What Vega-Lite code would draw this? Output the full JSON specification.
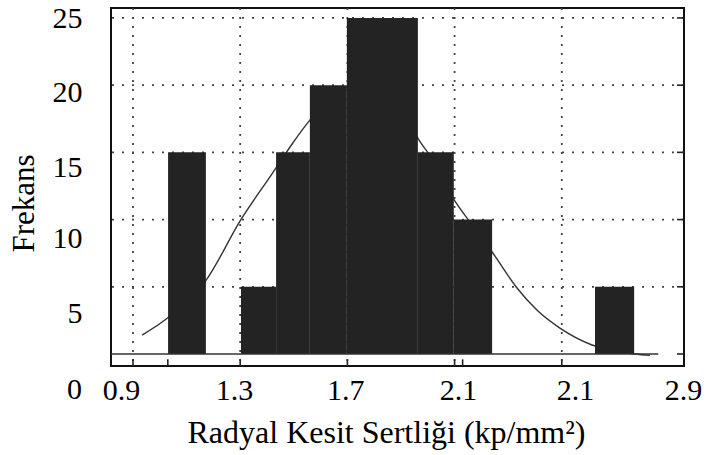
{
  "$schema": "https://vega.github.io/schema/vega-lite/v6.json",
  "autosize": "none",
  "width": 573,
  "height": 358,
  "padding": {"left": 111, "top": 8, "right": 26, "bottom": 89},
  "background": "white",
  "config": {
    "view": {"stroke": "#111", "strokeWidth": 2},
    "font": "Liberation Serif"
  },
  "datasets": {
    "bars": [
      {"lo": 1.031, "hi": 1.172, "freq": 15},
      {"lo": 1.303, "hi": 1.434, "freq": 5},
      {"lo": 1.434, "hi": 1.56, "freq": 15},
      {"lo": 1.56, "hi": 1.698, "freq": 20},
      {"lo": 1.698, "hi": 1.963, "freq": 25},
      {"lo": 1.963, "hi": 2.097, "freq": 15},
      {"lo": 2.097, "hi": 2.24, "freq": 10},
      {"lo": 2.624, "hi": 2.77, "freq": 5}
    ],
    "curve": [
      {"x": 0.934, "y": 1.41},
      {"x": 1.019, "y": 2.53},
      {"x": 1.169, "y": 5.38},
      {"x": 1.306, "y": 10.1},
      {"x": 1.422, "y": 13.5},
      {"x": 1.486, "y": 15.4},
      {"x": 1.56, "y": 17.4},
      {"x": 1.65, "y": 19.2},
      {"x": 1.75, "y": 20.2},
      {"x": 1.85, "y": 19.4},
      {"x": 1.92, "y": 17.6},
      {"x": 1.971, "y": 15.8},
      {"x": 2.001, "y": 14.96},
      {"x": 2.094, "y": 11.6},
      {"x": 2.157, "y": 9.82},
      {"x": 2.24, "y": 7.59},
      {"x": 2.333, "y": 4.91},
      {"x": 2.407, "y": 3.27},
      {"x": 2.493, "y": 1.93},
      {"x": 2.613, "y": 0.67},
      {"x": 2.773, "y": 0.0},
      {"x": 2.829, "y": -0.1}
    ],
    "hgrid": [
      {"y": 5}, {"y": 10}, {"y": 15}, {"y": 20}, {"y": 25}
    ],
    "vgrid": [
      {"x": 0.9}, {"x": 1.3}, {"x": 1.7}, {"x": 2.1}, {"x": 2.5}
    ],
    "frameticks": [
      {"x": 0.9, "x2": 0.9, "y": -0.893, "y2": -0.4},
      {"x": 1.03, "x2": 1.03, "y": -0.893, "y2": -0.4},
      {"x": 1.3, "x2": 1.3, "y": -0.893, "y2": -0.4},
      {"x": 1.7, "x2": 1.7, "y": -0.893, "y2": -0.4},
      {"x": 2.1, "x2": 2.1, "y": -0.893, "y2": -0.4},
      {"x": 2.13, "x2": 2.13, "y": -0.893, "y2": -0.4},
      {"x": 2.5, "x2": 2.5, "y": -0.893, "y2": -0.4},
      {"x": 2.93, "x2": 2.956, "y": 0, "y2": 0},
      {"x": 2.93, "x2": 2.956, "y": 5, "y2": 5},
      {"x": 2.93, "x2": 2.956, "y": 10, "y2": 10},
      {"x": 2.93, "x2": 2.956, "y": 15, "y2": 15},
      {"x": 2.93, "x2": 2.956, "y": 20, "y2": 20},
      {"x": 2.93, "x2": 2.956, "y": 25, "y2": 25}
    ],
    "baseline": [
      {"x": 0.818, "x2": 2.86, "y": 0}
    ],
    "zero": [
      {"label": "0", "x": 0.682, "y": -3.35}
    ]
  },
  "layer": [
    {
      "data": {"name": "hgrid"},
      "mark": {"type": "rule", "color": "#444", "strokeWidth": 1.8, "strokeDash": [2, 8]},
      "encoding": {
        "y": {"field": "y", "type": "quantitative", "scale": {"domain": [-0.893, 25.74], "nice": false, "zero": false},
          "axis": {"values": [24.93, 19.42, 13.84, 8.56, 2.98], "labelExpr": "'' + round(datum.value / 5) * 5", "ticks": false, "tickSize": 0, "domain": false, "grid": false, "labelFont": "Liberation Serif", "labelFontSize": 30, "labelColor": "#000", "labelPadding": 29, "labelFlush": false, "labelOverlap": false, "title": "Frekans", "titleFont": "Liberation Serif", "titleFontSize": 31, "titleFontWeight": "normal", "titleColor": "#000", "titleAngle": -90, "titleX": -78, "titleY": 195, "titleBaseline": "alphabetic", "titleAlign": "center"}}
      }
    },
    {
      "data": {"name": "vgrid"},
      "mark": {"type": "rule", "color": "#444", "strokeWidth": 1.8, "strokeDash": [2, 7]},
      "encoding": {
        "x": {"field": "x", "type": "quantitative", "scale": {"domain": [0.818, 2.956], "nice": false, "zero": false},
          "axis": {"values": [0.855, 1.277, 1.692, 2.113, 2.549, 2.952], "labelExpr": "datum.value < 1 ? '0.9' : datum.value < 1.5 ? '1.3' : datum.value < 1.9 ? '1.7' : datum.value < 2.75 ? '2.1' : '2.9'", "ticks": false, "tickSize": 0, "domain": false, "grid": false, "labelFont": "Liberation Serif", "labelFontSize": 30, "labelColor": "#000", "labelPadding": 9, "labelFlush": false, "labelOverlap": false, "title": "Radyal Kesit Sertliği (kp/mm²)", "titleFont": "Liberation Serif", "titleFontSize": 32, "titleFontWeight": "normal", "titleColor": "#000", "titleX": 275, "titleY": 76, "titleBaseline": "alphabetic", "titleAlign": "center"}}
      }
    },
    {
      "data": {"name": "curve"},
      "mark": {"type": "line", "color": "#333", "strokeWidth": 1.4, "interpolate": "monotone"},
      "encoding": {
        "x": {"field": "x", "type": "quantitative", "scale": {"domain": [0.818, 2.956], "nice": false, "zero": false},
          "axis": {"values": [0.855, 1.277, 1.692, 2.113, 2.549, 2.952], "labelExpr": "datum.value < 1 ? '0.9' : datum.value < 1.5 ? '1.3' : datum.value < 1.9 ? '1.7' : datum.value < 2.75 ? '2.1' : '2.9'", "ticks": false, "tickSize": 0, "domain": false, "grid": false, "labelFont": "Liberation Serif", "labelFontSize": 30, "labelColor": "#000", "labelPadding": 9, "labelFlush": false, "labelOverlap": false, "title": "Radyal Kesit Sertliği (kp/mm²)", "titleFont": "Liberation Serif", "titleFontSize": 32, "titleFontWeight": "normal", "titleColor": "#000", "titleX": 275, "titleY": 76, "titleBaseline": "alphabetic", "titleAlign": "center"}},
        "y": {"field": "y", "type": "quantitative", "scale": {"domain": [-0.893, 25.74], "nice": false, "zero": false},
          "axis": {"values": [24.93, 19.42, 13.84, 8.56, 2.98], "labelExpr": "'' + round(datum.value / 5) * 5", "ticks": false, "tickSize": 0, "domain": false, "grid": false, "labelFont": "Liberation Serif", "labelFontSize": 30, "labelColor": "#000", "labelPadding": 29, "labelFlush": false, "labelOverlap": false, "title": "Frekans", "titleFont": "Liberation Serif", "titleFontSize": 31, "titleFontWeight": "normal", "titleColor": "#000", "titleAngle": -90, "titleX": -78, "titleY": 195, "titleBaseline": "alphabetic", "titleAlign": "center"}}
      }
    },
    {
      "data": {"name": "bars"},
      "mark": {"type": "rect", "color": "#232323"},
      "encoding": {
        "x": {"field": "lo", "type": "quantitative", "scale": {"domain": [0.818, 2.956], "nice": false, "zero": false},
          "axis": {"values": [0.855, 1.277, 1.692, 2.113, 2.549, 2.952], "labelExpr": "datum.value < 1 ? '0.9' : datum.value < 1.5 ? '1.3' : datum.value < 1.9 ? '1.7' : datum.value < 2.75 ? '2.1' : '2.9'", "ticks": false, "tickSize": 0, "domain": false, "grid": false, "labelFont": "Liberation Serif", "labelFontSize": 30, "labelColor": "#000", "labelPadding": 9, "labelFlush": false, "labelOverlap": false, "title": "Radyal Kesit Sertliği (kp/mm²)", "titleFont": "Liberation Serif", "titleFontSize": 32, "titleFontWeight": "normal", "titleColor": "#000", "titleX": 275, "titleY": 76, "titleBaseline": "alphabetic", "titleAlign": "center"}},
        "x2": {"field": "hi"},
        "y": {"field": "freq", "type": "quantitative", "scale": {"domain": [-0.893, 25.74], "nice": false, "zero": false},
          "axis": {"values": [24.93, 19.42, 13.84, 8.56, 2.98], "labelExpr": "'' + round(datum.value / 5) * 5", "ticks": false, "tickSize": 0, "domain": false, "grid": false, "labelFont": "Liberation Serif", "labelFontSize": 30, "labelColor": "#000", "labelPadding": 29, "labelFlush": false, "labelOverlap": false, "title": "Frekans", "titleFont": "Liberation Serif", "titleFontSize": 31, "titleFontWeight": "normal", "titleColor": "#000", "titleAngle": -90, "titleX": -78, "titleY": 195, "titleBaseline": "alphabetic", "titleAlign": "center"}},
        "y2": {"datum": 0}
      }
    },
    {
      "data": {"name": "baseline"},
      "mark": {"type": "rule", "color": "#333", "strokeWidth": 1.6},
      "encoding": {
        "x": {"field": "x", "type": "quantitative", "scale": {"domain": [0.818, 2.956], "nice": false, "zero": false},
          "axis": {"values": [0.855, 1.277, 1.692, 2.113, 2.549, 2.952], "labelExpr": "datum.value < 1 ? '0.9' : datum.value < 1.5 ? '1.3' : datum.value < 1.9 ? '1.7' : datum.value < 2.75 ? '2.1' : '2.9'", "ticks": false, "tickSize": 0, "domain": false, "grid": false, "labelFont": "Liberation Serif", "labelFontSize": 30, "labelColor": "#000", "labelPadding": 9, "labelFlush": false, "labelOverlap": false, "title": "Radyal Kesit Sertliği (kp/mm²)", "titleFont": "Liberation Serif", "titleFontSize": 32, "titleFontWeight": "normal", "titleColor": "#000", "titleX": 275, "titleY": 76, "titleBaseline": "alphabetic", "titleAlign": "center"}},
        "x2": {"field": "x2"},
        "y": {"field": "y", "type": "quantitative", "scale": {"domain": [-0.893, 25.74], "nice": false, "zero": false},
          "axis": {"values": [24.93, 19.42, 13.84, 8.56, 2.98], "labelExpr": "'' + round(datum.value / 5) * 5", "ticks": false, "tickSize": 0, "domain": false, "grid": false, "labelFont": "Liberation Serif", "labelFontSize": 30, "labelColor": "#000", "labelPadding": 29, "labelFlush": false, "labelOverlap": false, "title": "Frekans", "titleFont": "Liberation Serif", "titleFontSize": 31, "titleFontWeight": "normal", "titleColor": "#000", "titleAngle": -90, "titleX": -78, "titleY": 195, "titleBaseline": "alphabetic", "titleAlign": "center"}}
      }
    },
    {
      "data": {"name": "frameticks"},
      "mark": {"type": "rule", "color": "#222", "strokeWidth": 1.6},
      "encoding": {
        "x": {"field": "x", "type": "quantitative", "scale": {"domain": [0.818, 2.956], "nice": false, "zero": false},
          "axis": {"values": [0.855, 1.277, 1.692, 2.113, 2.549, 2.952], "labelExpr": "datum.value < 1 ? '0.9' : datum.value < 1.5 ? '1.3' : datum.value < 1.9 ? '1.7' : datum.value < 2.75 ? '2.1' : '2.9'", "ticks": false, "tickSize": 0, "domain": false, "grid": false, "labelFont": "Liberation Serif", "labelFontSize": 30, "labelColor": "#000", "labelPadding": 9, "labelFlush": false, "labelOverlap": false, "title": "Radyal Kesit Sertliği (kp/mm²)", "titleFont": "Liberation Serif", "titleFontSize": 32, "titleFontWeight": "normal", "titleColor": "#000", "titleX": 275, "titleY": 76, "titleBaseline": "alphabetic", "titleAlign": "center"}},
        "x2": {"field": "x2"},
        "y": {"field": "y", "type": "quantitative", "scale": {"domain": [-0.893, 25.74], "nice": false, "zero": false},
          "axis": {"values": [24.93, 19.42, 13.84, 8.56, 2.98], "labelExpr": "'' + round(datum.value / 5) * 5", "ticks": false, "tickSize": 0, "domain": false, "grid": false, "labelFont": "Liberation Serif", "labelFontSize": 30, "labelColor": "#000", "labelPadding": 29, "labelFlush": false, "labelOverlap": false, "title": "Frekans", "titleFont": "Liberation Serif", "titleFontSize": 31, "titleFontWeight": "normal", "titleColor": "#000", "titleAngle": -90, "titleX": -78, "titleY": 195, "titleBaseline": "alphabetic", "titleAlign": "center"}},
        "y2": {"field": "y2"}
      }
    },
    {
      "data": {"name": "zero"},
      "mark": {"type": "text", "font": "Liberation Serif", "fontSize": 30, "color": "#000", "align": "center", "baseline": "alphabetic"},
      "encoding": {
        "x": {"field": "x", "type": "quantitative", "scale": {"domain": [0.818, 2.956], "nice": false, "zero": false},
          "axis": {"values": [0.855, 1.277, 1.692, 2.113, 2.549, 2.952], "labelExpr": "datum.value < 1 ? '0.9' : datum.value < 1.5 ? '1.3' : datum.value < 1.9 ? '1.7' : datum.value < 2.75 ? '2.1' : '2.9'", "ticks": false, "tickSize": 0, "domain": false, "grid": false, "labelFont": "Liberation Serif", "labelFontSize": 30, "labelColor": "#000", "labelPadding": 9, "labelFlush": false, "labelOverlap": false, "title": "Radyal Kesit Sertliği (kp/mm²)", "titleFont": "Liberation Serif", "titleFontSize": 32, "titleFontWeight": "normal", "titleColor": "#000", "titleX": 275, "titleY": 76, "titleBaseline": "alphabetic", "titleAlign": "center"}},
        "y": {"field": "y", "type": "quantitative", "scale": {"domain": [-0.893, 25.74], "nice": false, "zero": false},
          "axis": {"values": [24.93, 19.42, 13.84, 8.56, 2.98], "labelExpr": "'' + round(datum.value / 5) * 5", "ticks": false, "tickSize": 0, "domain": false, "grid": false, "labelFont": "Liberation Serif", "labelFontSize": 30, "labelColor": "#000", "labelPadding": 29, "labelFlush": false, "labelOverlap": false, "title": "Frekans", "titleFont": "Liberation Serif", "titleFontSize": 31, "titleFontWeight": "normal", "titleColor": "#000", "titleAngle": -90, "titleX": -78, "titleY": 195, "titleBaseline": "alphabetic", "titleAlign": "center"}},
        "text": {"field": "label"}
      }
    }
  ]
}
